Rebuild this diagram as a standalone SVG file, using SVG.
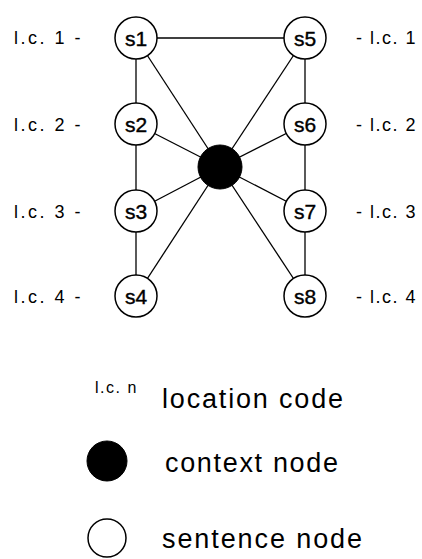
<svg xmlns="http://www.w3.org/2000/svg" width="422" height="559" viewBox="0 0 422 559">
<style>
.edge{stroke:#000;stroke-width:1.3;fill:none}
.sn{fill:#fff;stroke:#000;stroke-width:1.5}
.cn{fill:#000;stroke:#000}
.nt{font-family:"Liberation Sans",Arial,sans-serif;font-size:21px;text-anchor:middle;fill:#000;stroke:#000;stroke-width:0.4}
.lc{font-family:"Liberation Sans",Arial,sans-serif;font-size:18px;letter-spacing:2.5px;fill:#000}
.rc{font-family:"Liberation Sans",Arial,sans-serif;font-size:18px;letter-spacing:1.5px;fill:#000}
.lg{font-family:"Liberation Sans",Arial,sans-serif;font-size:27px;fill:#000}
.lgs{font-family:"Liberation Sans",Arial,sans-serif;font-size:16px;letter-spacing:1.5px;fill:#000}
</style>
<rect width="422" height="559" fill="#fff"/>
<g id="connectors">
<line class="edge" x1="136" y1="38" x2="305" y2="38"/>
<line class="edge" x1="136" y1="38" x2="136" y2="296"/>
<line class="edge" x1="305" y1="38" x2="305" y2="296"/>
<line class="edge" x1="136" y1="38" x2="220" y2="167"/>
<line class="edge" x1="136" y1="124" x2="220" y2="167"/>
<line class="edge" x1="136" y1="211" x2="220" y2="167"/>
<line class="edge" x1="136" y1="296" x2="220" y2="167"/>
<line class="edge" x1="305" y1="38" x2="220" y2="167"/>
<line class="edge" x1="305" y1="124" x2="220" y2="167"/>
<line class="edge" x1="305" y1="211" x2="220" y2="167"/>
<line class="edge" x1="305" y1="296" x2="220" y2="167"/>
</g>
<g id="context"><circle class="cn" cx="220" cy="167" r="22"/></g>
<g id="s1"><circle class="sn" cx="136" cy="38" r="21"/><text class="nt" x="136" y="45.5">s1</text></g>
<g id="s2"><circle class="sn" cx="136" cy="124" r="21"/><text class="nt" x="136" y="131.5">s2</text></g>
<g id="s3"><circle class="sn" cx="136" cy="211" r="21"/><text class="nt" x="136" y="218.5">s3</text></g>
<g id="s4"><circle class="sn" cx="136" cy="296" r="21"/><text class="nt" x="136" y="303.5">s4</text></g>
<g id="s5"><circle class="sn" cx="305" cy="38" r="21"/><text class="nt" x="305" y="45.5">s5</text></g>
<g id="s6"><circle class="sn" cx="305" cy="124" r="21"/><text class="nt" x="305" y="131.5">s6</text></g>
<g id="s7"><circle class="sn" cx="305" cy="211" r="21"/><text class="nt" x="305" y="218.5">s7</text></g>
<g id="s8"><circle class="sn" cx="305" cy="296" r="21"/><text class="nt" x="305" y="303.5">s8</text></g>
<g id="labels">
<text class="lc" x="14" y="44">l.c. 1 -</text>
<text class="lc" x="14" y="131">l.c. 2 -</text>
<text class="lc" x="14" y="218">l.c. 3 -</text>
<text class="lc" x="14" y="303">l.c. 4 -</text>
<text class="rc" x="356" y="44">- l.c. 1</text>
<text class="rc" x="356" y="131">- l.c. 2</text>
<text class="rc" x="356" y="218">- l.c. 3</text>
<text class="rc" x="356" y="303">- l.c. 4</text>
</g>
<g id="legend">
<text class="lgs" x="95" y="393">l.c. n</text>
<text class="lg" x="162" y="408" textLength="181" lengthAdjust="spacing">location code</text>
<circle class="cn" cx="107" cy="461" r="20"/>
<text class="lg" x="165" y="472" textLength="173" lengthAdjust="spacing">context node</text>
<circle class="sn" cx="107" cy="538" r="19"/>
<text class="lg" x="162" y="548" textLength="200" lengthAdjust="spacing">sentence node</text>
</g>
</svg>
